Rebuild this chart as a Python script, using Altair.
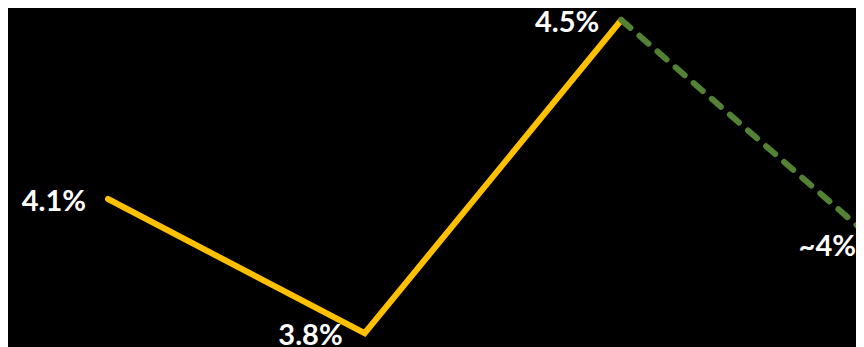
import altair as alt
import pandas as pd

# Data
positions = [0, 1, 2, 3]
values = [4.1, 3.8, 4.5, 4.0]
labels = ["4.1%", "3.8%", "4.5%", "~4%"]

actual_x = [0, 1, 2]
actual_y = [4.1, 3.8, 4.5]
forecast_x = [2, 3]
forecast_y = [4.5, 4.0]

df_actual = pd.DataFrame({"x": actual_x, "y": actual_y})
df_forecast = pd.DataFrame({"x": forecast_x, "y": forecast_y})
df_labels = pd.DataFrame({"x": positions, "y": values, "label": labels})

xscale = alt.Scale(domain=[-0.3896, 2.9143], nice=False, zero=False)
yscale = alt.Scale(domain=[3.7693, 4.5268], nice=False, zero=False)

X = alt.X("x:Q", scale=xscale, axis=None)
Y = alt.Y("y:Q", scale=yscale, axis=None)

actual = alt.Chart(df_actual).mark_line(
    color="#FFC000", strokeWidth=6, strokeCap="round", strokeJoin="miter", clip=True
).encode(x=X, y=Y)

forecast = alt.Chart(df_forecast).mark_line(
    color="#548235", strokeWidth=6, strokeDash=[12, 12], strokeCap="round", clip=True
).encode(x=X, y=Y)

text = alt.Chart(df_labels).mark_text(
    align="right", baseline="middle", dx=-22, dy=3,
    font="Lato", fontWeight="bold", fontSize=29, color="white", clip=True
).encode(x=X, y=Y, text="label:N")

chart = alt.layer(actual, forecast, text).properties(
    width=848, height=339, padding=0,
    background="#000000",
).configure_view(stroke=None)

chart.save("out.html", embed_options={"renderer": "svg", "actions": False})
